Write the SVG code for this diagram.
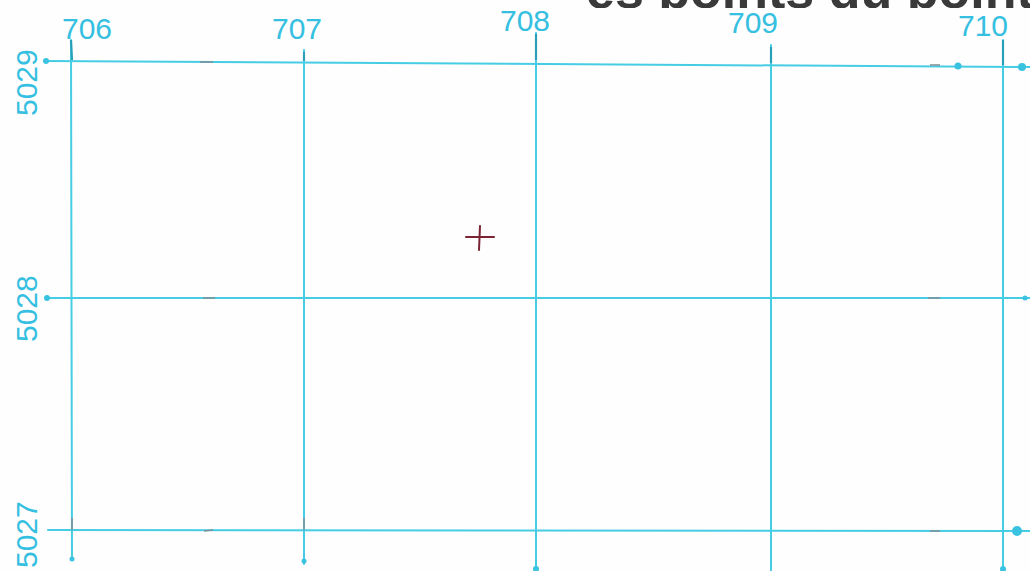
<svg xmlns="http://www.w3.org/2000/svg" width="1030" height="571" viewBox="0 0 1030 571">
<style>
.g{stroke:#46cde4;stroke-width:2;fill:none;stroke-linecap:round}
.t{stroke:#2a9fb8;stroke-width:2.2;fill:none}
.d{fill:#3ac3e0}
.lbl{font-family:"Liberation Sans","DejaVu Sans",sans-serif;font-size:30px;fill:#35bfe0}
.m{stroke:#7f8e96;stroke-width:1.5}
</style>
<defs>
<clipPath id="topclip"><rect x="0" y="0" width="1030" height="8"/></clipPath>
</defs>
<rect width="1030" height="571" fill="#fefefe"/>
<g clip-path="url(#topclip)">
<text x="586" y="8" font-family="Liberation Sans, sans-serif" font-weight="bold" font-size="52" fill="#3a3a3a">es points du point M</text>
</g>
<g id="grid">
<line class="g" x1="45" y1="61" x2="1030" y2="67"/>
<line class="g" x1="45" y1="298" x2="1030" y2="298"/>
<line class="g" x1="48" y1="530" x2="1030" y2="531"/>
<line class="g" x1="71" y1="40" x2="72" y2="560"/>
<line class="g" x1="304" y1="50" x2="304" y2="564"/>
<line class="g" x1="536" y1="33" x2="536" y2="571"/>
<line class="g" x1="771" y1="45" x2="771" y2="571"/>
<line class="g" x1="1003" y1="40" x2="1003" y2="571"/>
<line class="t" x1="71" y1="40" x2="72" y2="60"/>
<line class="t" x1="304" y1="52" x2="304" y2="61"/>
<line class="t" x1="536" y1="34" x2="536" y2="60"/>
<line class="t" x1="771" y1="47" x2="771" y2="63"/>
<line class="t" x1="1003" y1="40" x2="1003" y2="65"/>
<line class="m" x1="200" y1="62" x2="213" y2="62"/>
<line class="m" x1="203" y1="298" x2="215" y2="298"/>
<line class="m" x1="204" y1="531" x2="213" y2="530"/>
<line class="m" x1="928" y1="298" x2="940" y2="298"/>
<line class="m" x1="930" y1="531" x2="940" y2="531"/>
<line class="m" x1="930" y1="65" x2="940" y2="65"/>
<circle class="d" cx="46" cy="61" r="3"/>
<circle class="d" cx="47" cy="298" r="3"/>
<circle class="d" cx="958" cy="66" r="3.5"/>
<circle class="d" cx="1022" cy="67" r="4"/>
<circle class="d" cx="1025" cy="298" r="2.5"/>
<circle class="d" cx="1017" cy="531" r="5"/>
<circle class="d" cx="72" cy="559" r="2.5"/>
<circle class="d" cx="304" cy="561" r="2.5"/>
<circle class="d" cx="536" cy="569" r="3"/>
<circle class="d" cx="1003" cy="569" r="3"/>
<line class="m" x1="72" y1="518" x2="72" y2="530"/>
<line class="m" x1="304" y1="518" x2="304" y2="530"/>
</g>
<g id="cross" stroke="#7a2335" stroke-width="2" stroke-linecap="round">
<line x1="466" y1="237" x2="494" y2="237"/>
<line x1="480" y1="226" x2="479" y2="250"/>
</g>
<g id="labels">
<text class="lbl" x="62" y="39">706</text>
<text class="lbl" x="272" y="39">707</text>
<text class="lbl" x="500" y="31">708</text>
<text class="lbl" x="728" y="33">709</text>
<text class="lbl" x="958" y="36">710</text>
<text class="lbl" transform="translate(37,116) rotate(-90)">5029</text>
<text class="lbl" transform="translate(37,342) rotate(-90)">5028</text>
<text class="lbl" transform="translate(37,568) rotate(-90)">5027</text>
</g>
</svg>
